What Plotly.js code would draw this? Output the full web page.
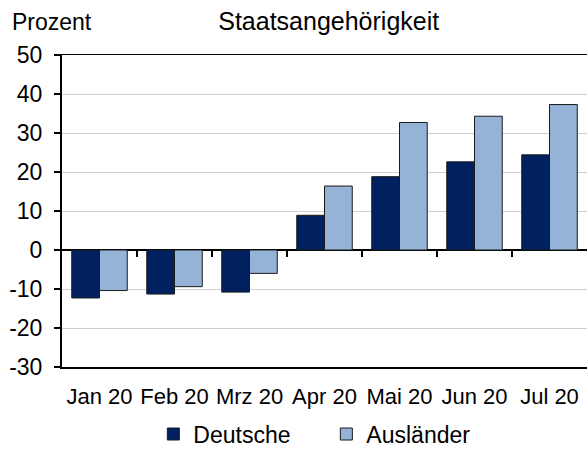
<!DOCTYPE html>
<html>
<head>
<meta charset="utf-8">
<script src="https://cdn.plot.ly/plotly-3.0.1.min.js"></script>
<style>
html,body{margin:0;padding:0;background:#fff;}
#chart{width:587px;height:456px;}
</style>
</head>
<body>
<div id="chart"></div>
<script>
const categories = ["Jan 20","Feb 20","Mrz 20","Apr 20","Mai 20","Jun 20","Jul 20"];
const deutsche   = [-12.3, -11.3, -10.8, 8.9, 18.8, 22.6, 24.4];
const auslaender = [-10.4, -9.4, -6.0, 16.4, 32.7, 34.3, 37.3];
const yTickVals  = [-30, -20, -10, 0, 10, 20, 30, 40, 50];
const yTickText  = ["-30","-20","-10","0","10","20","30","40","50"];
const seriesNames = ["Deutsche","Ausländer"];

const FONT = "Liberation Sans, Arial, sans-serif";
const boundaries = categories.slice(0, -1).map((_, i) => i + 0.5);

const traces = [
  {type:"bar", name:seriesNames[0], x:categories, y:deutsche,
   marker:{color:"#002060", line:{color:"#1a1a1a", width:1}}, hoverinfo:"skip"},
  {type:"bar", name:seriesNames[1], x:categories, y:auslaender,
   marker:{color:"#95b3d7", line:{color:"#1a1a1a", width:1}}, hoverinfo:"skip"},
  {type:"scatter", x:[], y:[], xaxis:"x2", yaxis:"y", showlegend:false, hoverinfo:"skip"}
];

const layout = {
  width:587, height:456,
  margin:{l:62, r:0, t:55, b:84},
  paper_bgcolor:"#fff", plot_bgcolor:"#fff",
  font:{family:FONT, color:"#000", size:20},
  barmode:"group", bargap:0.26, bargroupgap:0,
  title:{text:"Staatsangehörigkeit", font:{family:FONT, size:25, color:"#000"},
         x:0.56, xanchor:"center", xref:"container", y:0.953, yanchor:"middle", yref:"container"},
  xaxis:{type:"category", range:[-0.5, 6.5], showline:true, linecolor:"#000", linewidth:1.5,
         mirror:true, ticks:"", showgrid:false, zeroline:false,
         tickfont:{family:FONT, size:22, color:"#000"}, ticklabelstandoff:9, fixedrange:true},
  xaxis2:{type:"linear", overlaying:"x", anchor:"free", position:0.375, range:[-0.5, 6.5],
          tickmode:"array", tickvals:boundaries, showticklabels:false, ticks:"outside",
          ticklen:6, tickwidth:1.3, tickcolor:"#000", showline:false, showgrid:false,
          zeroline:false, fixedrange:true},
  yaxis:{range:[-30, 50], tickmode:"array", tickvals:yTickVals, ticktext:yTickText,
         showline:true, linecolor:"#000", linewidth:2, ticks:"outside", ticklen:6,
         tickwidth:1.5, tickcolor:"#000", showgrid:true, gridcolor:"#cfcfcf", gridwidth:1,
         zeroline:true, zerolinecolor:"#000", zerolinewidth:1.5,
         tickfont:{family:FONT, size:23, color:"#000"}, ticklabelstandoff:7, fixedrange:true},
  legend:{orientation:"h", x:0.174, xanchor:"left", y:-0.215, yanchor:"middle",
          font:{family:FONT, size:23, color:"#000"}, entrywidth:128, entrywidthmode:"pixels",
          itemwidth:30, bgcolor:"rgba(0,0,0,0)"},
  annotations:[
    {text:"Prozent", xref:"paper", yref:"paper", x:-0.1, xanchor:"left", y:1.107,
     yanchor:"middle", showarrow:false, font:{family:FONT, size:23, color:"#000"}}
  ],
  showlegend:true
};

Plotly.newPlot("chart", traces, layout, {displayModeBar:false, staticPlot:true});
</script>
</body>
</html>
